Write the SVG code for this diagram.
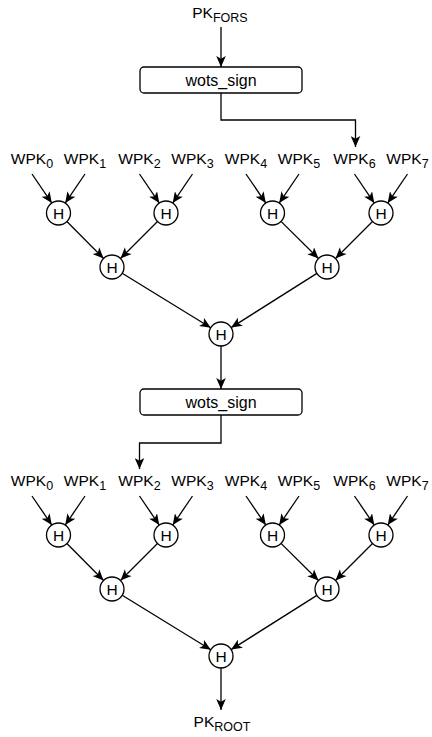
<svg xmlns="http://www.w3.org/2000/svg" width="432" height="737" viewBox="0 0 432 737">
<defs>
<marker id="arr" markerUnits="userSpaceOnUse" markerWidth="11" markerHeight="10" viewBox="0 0 11 10" refX="11" refY="5" orient="auto"><path d="M0,0.2 L11,5 L0,9.8 L2.8,5 z" fill="#000"/></marker>
</defs>
<style>
text{font-family:"Liberation Sans",Arial,Helvetica,sans-serif;fill:#000}
.lbl{font-size:15.5px;text-anchor:middle}
.sub{font-size:12.5px}
.ws{font-size:16px;text-anchor:middle}
.h{font-size:15.5px;text-anchor:middle}
.box{fill:#fff;stroke:#000;stroke-width:1.3}
.hc{fill:#fff;stroke:#000;stroke-width:1.3}
.c{fill:none;stroke:#000;stroke-width:1.3;marker-end:url(#arr)}
</style>
<rect width="432" height="737" fill="#fff"/>
<g id="connectors">
<path class="c" d="M221,27 V67"/>
<path class="c" d="M221,93 V120 H355.5 V147"/>
<g id="conn-tree1">
<path class="c" d="M32,174 L51.8,203.1"/>
<path class="c" d="M85,174 L65.2,203.1"/>
<path class="c" d="M139.5,174 L159.3,203.1"/>
<path class="c" d="M192.5,174 L172.7,203.1"/>
<path class="c" d="M246,174 L265.8,203.1"/>
<path class="c" d="M299,174 L279.2,203.1"/>
<path class="c" d="M354.5,174 L374.3,203.1"/>
<path class="c" d="M407.5,174 L387.7,203.1"/>
<path class="c" d="M66.9,221.5 L103.6,258.5"/>
<path class="c" d="M157.5,221.5 L120.5,258.5"/>
<path class="c" d="M281,221.4 L318.5,258.5"/>
<path class="c" d="M372.5,221.5 L335.5,258.5"/>
<path class="c" d="M122.2,273.3 L210.8,327.7"/>
<path class="c" d="M316.9,273.4 L231.1,327.6"/>
<path class="c" d="M221,346 V389"/>
</g>
<path class="c" d="M221,415 V443 H139.5 V469"/>
<g id="conn-tree2" transform="translate(0,322)">
<path class="c" d="M32,174 L51.8,203.1"/>
<path class="c" d="M85,174 L65.2,203.1"/>
<path class="c" d="M139.5,174 L159.3,203.1"/>
<path class="c" d="M192.5,174 L172.7,203.1"/>
<path class="c" d="M246,174 L265.8,203.1"/>
<path class="c" d="M299,174 L279.2,203.1"/>
<path class="c" d="M354.5,174 L374.3,203.1"/>
<path class="c" d="M407.5,174 L387.7,203.1"/>
<path class="c" d="M66.9,221.5 L103.6,258.5"/>
<path class="c" d="M157.5,221.5 L120.5,258.5"/>
<path class="c" d="M281,221.4 L318.5,258.5"/>
<path class="c" d="M372.5,221.5 L335.5,258.5"/>
<path class="c" d="M122.2,273.3 L210.8,327.7"/>
<path class="c" d="M316.9,273.4 L231.1,327.6"/>
<path class="c" d="M221,346 V388"/>
</g>
</g>
<g id="pk-fors"><text class="lbl" x="220" y="18">PK<tspan class="sub" dy="4">FORS</tspan></text></g>
<g id="wots-sign-1"><rect class="box" x="140" y="67" width="162" height="26" rx="4"/><text class="ws" x="221" y="85.5">wots_sign</text></g>
<g id="tree1">
<g id="t1-wpk0"><text class="lbl" x="32" y="164">WPK<tspan class="sub" dy="4">0</tspan></text></g>
<g id="t1-wpk1"><text class="lbl" x="85" y="164">WPK<tspan class="sub" dy="4">1</tspan></text></g>
<g id="t1-wpk2"><text class="lbl" x="139.5" y="164">WPK<tspan class="sub" dy="4">2</tspan></text></g>
<g id="t1-wpk3"><text class="lbl" x="192.5" y="164">WPK<tspan class="sub" dy="4">3</tspan></text></g>
<g id="t1-wpk4"><text class="lbl" x="246" y="164">WPK<tspan class="sub" dy="4">4</tspan></text></g>
<g id="t1-wpk5"><text class="lbl" x="299" y="164">WPK<tspan class="sub" dy="4">5</tspan></text></g>
<g id="t1-wpk6"><text class="lbl" x="354.5" y="164">WPK<tspan class="sub" dy="4">6</tspan></text></g>
<g id="t1-wpk7"><text class="lbl" x="407.5" y="164">WPK<tspan class="sub" dy="4">7</tspan></text></g>
<g id="t1-h01"><circle class="hc" cx="58.5" cy="213" r="12"/><text class="h" x="58.5" y="218.5">H</text></g>
<g id="t1-h23"><circle class="hc" cx="166" cy="213" r="12"/><text class="h" x="166" y="218.5">H</text></g>
<g id="t1-h45"><circle class="hc" cx="272.5" cy="213" r="12"/><text class="h" x="272.5" y="218.5">H</text></g>
<g id="t1-h67"><circle class="hc" cx="381" cy="213" r="12"/><text class="h" x="381" y="218.5">H</text></g>
<g id="t1-h0123"><circle class="hc" cx="112" cy="267" r="12"/><text class="h" x="112" y="272.5">H</text></g>
<g id="t1-h4567"><circle class="hc" cx="327" cy="267" r="12"/><text class="h" x="327" y="272.5">H</text></g>
<g id="t1-root"><circle class="hc" cx="221" cy="334" r="12"/><text class="h" x="221" y="339.5">H</text></g>
</g>
<g id="wots-sign-2"><rect class="box" x="140" y="389" width="162" height="26" rx="4"/><text class="ws" x="221" y="407.5">wots_sign</text></g>
<g id="tree2" transform="translate(0,322)">
<g id="t2-wpk0"><text class="lbl" x="32" y="164">WPK<tspan class="sub" dy="4">0</tspan></text></g>
<g id="t2-wpk1"><text class="lbl" x="85" y="164">WPK<tspan class="sub" dy="4">1</tspan></text></g>
<g id="t2-wpk2"><text class="lbl" x="139.5" y="164">WPK<tspan class="sub" dy="4">2</tspan></text></g>
<g id="t2-wpk3"><text class="lbl" x="192.5" y="164">WPK<tspan class="sub" dy="4">3</tspan></text></g>
<g id="t2-wpk4"><text class="lbl" x="246" y="164">WPK<tspan class="sub" dy="4">4</tspan></text></g>
<g id="t2-wpk5"><text class="lbl" x="299" y="164">WPK<tspan class="sub" dy="4">5</tspan></text></g>
<g id="t2-wpk6"><text class="lbl" x="354.5" y="164">WPK<tspan class="sub" dy="4">6</tspan></text></g>
<g id="t2-wpk7"><text class="lbl" x="407.5" y="164">WPK<tspan class="sub" dy="4">7</tspan></text></g>
<g id="t2-h01"><circle class="hc" cx="58.5" cy="213" r="12"/><text class="h" x="58.5" y="218.5">H</text></g>
<g id="t2-h23"><circle class="hc" cx="166" cy="213" r="12"/><text class="h" x="166" y="218.5">H</text></g>
<g id="t2-h45"><circle class="hc" cx="272.5" cy="213" r="12"/><text class="h" x="272.5" y="218.5">H</text></g>
<g id="t2-h67"><circle class="hc" cx="381" cy="213" r="12"/><text class="h" x="381" y="218.5">H</text></g>
<g id="t2-h0123"><circle class="hc" cx="112" cy="267" r="12"/><text class="h" x="112" y="272.5">H</text></g>
<g id="t2-h4567"><circle class="hc" cx="327" cy="267" r="12"/><text class="h" x="327" y="272.5">H</text></g>
<g id="t2-root"><circle class="hc" cx="221" cy="334" r="12"/><text class="h" x="221" y="339.5">H</text></g>
</g>
<g id="pk-root"><text class="lbl" x="222" y="727">PK<tspan class="sub" dy="4">ROOT</tspan></text></g>
</svg>
